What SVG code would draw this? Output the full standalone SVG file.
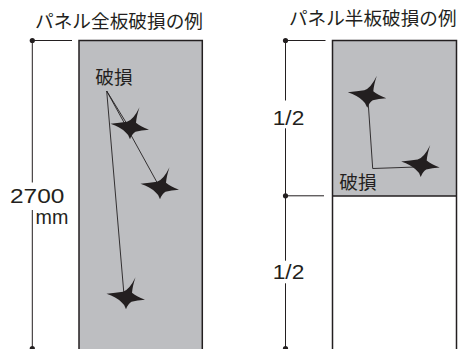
<svg xmlns="http://www.w3.org/2000/svg" width="458" height="349" viewBox="0 0 458 349">
<style>
.t{font-family:"Noto Sans CJK JP","Liberation Sans",sans-serif;fill:#231f20}
.n{font-family:"Liberation Sans","Noto Sans",sans-serif;fill:#231f20}
.panel{fill:#bdbec1;stroke:#231f20;stroke-width:1.5}
.dim{stroke:#231f20;stroke-width:1;fill:none}
.lead{stroke:#231f20;stroke-width:0.9;fill:none}
.dot{fill:#231f20}
.star{fill:#231f20}
</style>
<defs>
<path id="star" d="M9.5,-21 Q3.5,-8.5 -3,-6.5 Q-10,-5.5 -19.5,-4.5 Q-9.5,-1 -5,3.5 Q-1.5,6 0,11 Q2,5.5 5.5,3.5 Q11,2 19,1.5 Q10,-2 6,-5.5 Q6.5,-12 9.5,-21 Z"/>
</defs>
<rect width="458" height="349" fill="#ffffff"/>

<g id="left-panel">
<text class="t" x="35" y="28" font-size="18.5" textLength="168" lengthAdjust="spacingAndGlyphs">パネル全板破損の例</text>
<rect class="panel" x="79" y="40.5" width="123.3" height="330"/>
</g>

<g id="right-panel">
<text class="t" x="289" y="25" font-size="18.5" textLength="167.5" lengthAdjust="spacingAndGlyphs">パネル半板破損の例</text>
<rect x="332.5" y="40.5" width="124" height="155.5" fill="#bdbec1"/>
<rect x="332.5" y="196" width="124" height="175" fill="#ffffff"/>
<path d="M332.5,360 V40.5 H456.5 V360 M332.5,196 H456.5" fill="none" stroke="#231f20" stroke-width="1.5"/>
</g>

<g id="left-dimension">
<circle class="dot" cx="32.3" cy="40.5" r="2.6"/>
<circle class="dot" cx="32.3" cy="348.5" r="2.6"/>
<path class="dim" d="M32.3,40.5 H72 M32.3,40.5 V182.5 M32.3,210 V348.5"/>
<text class="n" x="10" y="202.7" font-size="20" textLength="54.3" lengthAdjust="spacingAndGlyphs">2700</text>
<text class="n" x="35.5" y="224.3" font-size="20" textLength="32.8" lengthAdjust="spacingAndGlyphs">mm</text>
</g>

<g id="right-dimension">
<circle class="dot" cx="285.5" cy="40.5" r="2.6"/>
<circle class="dot" cx="285.5" cy="195.8" r="2.6"/>
<circle class="dot" cx="285.5" cy="348.5" r="2.6"/>
<path class="dim" d="M285.5,40.5 H325.5 M285.5,195.8 H324 M285.5,40.5 V100.5 M285.5,128.3 V260.7 M285.5,283.3 V348.5"/>
<text class="n" x="272.7" y="125" font-size="21" textLength="31.6" lengthAdjust="spacingAndGlyphs">1/2</text>
<text class="n" x="272.7" y="279.3" font-size="21" textLength="31.6" lengthAdjust="spacingAndGlyphs">1/2</text>
</g>

<g id="connectors">
<path class="lead" d="M106.7,91 L127,124"/>
<path class="lead" d="M106.7,91 L159,186"/>
<path class="lead" d="M106.7,91 L124,295"/>
<path class="lead" d="M368,100 L372.7,168.5 L416,167"/>
</g>

<g id="damage-left">
<text class="t" x="95.3" y="84" font-size="18.5" textLength="37.4" lengthAdjust="spacingAndGlyphs">破損</text>
<use href="#star" class="star" transform="translate(130,128.3)"/>
<use href="#star" class="star" transform="translate(160,188.3)"/>
<use href="#star" class="star" transform="translate(126,298.3)"/>
</g>

<g id="damage-right">
<text class="t" x="339.3" y="189" font-size="18.5" textLength="37.4" lengthAdjust="spacingAndGlyphs">破損</text>
<use href="#star" class="star" transform="translate(367.3,96.7)"/>
<use href="#star" class="star" transform="translate(420.7,166)"/>
</g>
</svg>
